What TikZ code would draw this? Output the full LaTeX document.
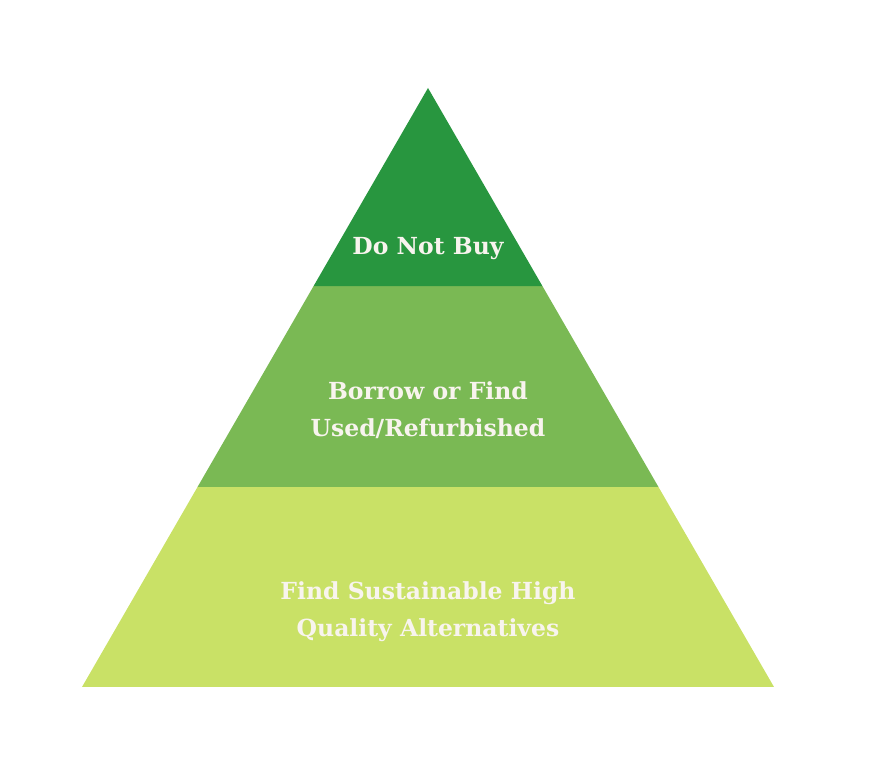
\documentclass[tikz,border=0pt]{standalone}
\usepackage{fontspec}
\setmainfont{DejaVu Serif}
\usepackage{tikz}
\usetikzlibrary{calc}
\definecolor{topgreen}{HTML}{28963F}
\definecolor{midgreen}{HTML}{7AB954}
\definecolor{lowgreen}{HTML}{C9E166}
\definecolor{labelwhite}{HTML}{F8F4EE}
\tikzset{level/.style = {text = labelwhite, align = center, font = \bfseries\fontsize{23.5}{37}\selectfont}}

\begin{document}
\begin{tikzpicture}[x = 1pt, y = 1pt]
    \useasboundingbox (0, 0) rectangle (870, 765);
    \coordinate (apex) at (428, 677);
    \coordinate (bl) at (82, 78);
    \coordinate (br) at (774, 78);

    % three bands of the pyramid
    \fill [lowgreen] (bl) -- (br) -- ($(br)!0.334!(apex)$) -- ($(bl)!0.334!(apex)$) -- cycle;
    \fill [midgreen] ($(bl)!0.334!(apex)$) -- ($(br)!0.334!(apex)$) -- ($(br)!0.6694!(apex)$) -- ($(bl)!0.6694!(apex)$) -- cycle;
    \fill [topgreen] ($(bl)!0.6694!(apex)$) -- ($(br)!0.6694!(apex)$) -- (apex) -- cycle;

    \node [level] (buy) at (428, 516) {Do Not Buy};
    \node [level] (used) at (428, 355) {Borrow or Find\\Used/Refurbished};
    \node [level] (alt) at (428, 153) {Find Sustainable High\\Quality Alternatives};
  \end{tikzpicture}
\end{document}
